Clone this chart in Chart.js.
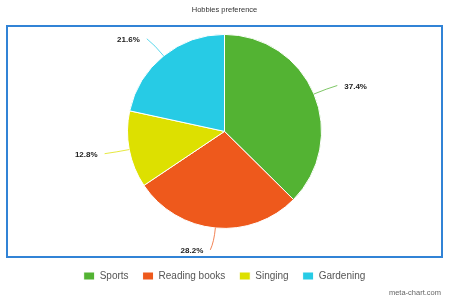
<!DOCTYPE html>
<html>
<head>
<meta charset="utf-8">
<script src="https://cdn.jsdelivr.net/npm/chart.js@4/dist/chart.umd.min.js"></script>
<style>
    html, body { margin: 0; padding: 0; background: #fff; }
    #wrap { width: 449px; height: 299px; }
</style>
</head>
<body>
<div id="wrap"><canvas id="hobbies_chart" width="449" height="299"></canvas></div>
<script>
// Data
const categories = ['Sports', 'Reading books', 'Singing', 'Gardening'];
const shares = [37.4, 28.2, 12.8, 21.6];
const sliceColors = ['#53b333', '#ee591c', '#dde000', '#27cbe5'];
const chartTitle = 'Hobbies preference';

// Blue frame behind the pie
const framePlugin = {
    id: 'frame',
    beforeDatasetsDraw(chart) {
        const c = chart.ctx;
        c.save();
        c.strokeStyle = '#3183d6';
        c.lineWidth = 2;
        c.strokeRect(7, 26, 435, 231);
        c.restore();
    }
};

// Leader lines + percent labels outside the slices
const outLabels = {
    id: 'outLabels',
    afterDraw(chart) {
        const c = chart.ctx;
        const arcs = chart.getDatasetMeta(0).data;
        c.save();
        arcs.forEach((arc, i) => {
            const p = arc.getProps(['x', 'y', 'startAngle', 'endAngle', 'outerRadius'], true);
            const mid = (p.startAngle + p.endAngle) / 2;
            const dx = Math.cos(mid), dy = Math.sin(mid);
            const side = dx >= 0 ? 1 : -1;
            const r = p.outerRadius;
            const x0 = p.x + r * dx, y0 = p.y + r * dy;
            const x1 = p.x + (r + 14) * dx, y1 = p.y + (r + 14) * dy;
            const x2 = p.x + (r + 22) * dx + side * 3, y2 = p.y + (r + 22) * dy;
            c.globalAlpha = 0.75;
            c.strokeStyle = sliceColors[i];
            c.lineWidth = 1;
            c.beginPath();
            c.moveTo(x0, y0);
            c.quadraticCurveTo(x1, y1, x2, y2);
            c.stroke();
            c.globalAlpha = 1;
            c.fillStyle = '#222';
            c.font = 'bold 8px "Liberation Sans", Arial, sans-serif';
            c.textBaseline = 'middle';
            c.textAlign = side > 0 ? 'left' : 'right';
            c.fillText(shares[i].toFixed(1) + '%', x2 + side * 7, y2 + 1);
        });
        // watermark
        c.fillStyle = '#666';
        c.font = '7.5px "Liberation Sans", Arial, sans-serif';
        c.textAlign = 'right';
        c.textBaseline = 'alphabetic';
        c.fillText('meta-chart.com', 441, 295);
        c.restore();
    }
};

const ctx = document.getElementById('hobbies_chart');
const hobbiesChart = new Chart(ctx, {
    type: 'pie',
    data: {
        labels: categories,
        datasets: [
            {
                data: shares,
                backgroundColor: sliceColors,
                borderColor: '#fff',
                borderWidth: 1,
                radius: 97
            }
        ]
    },
    options: {
        responsive: false,
        animation: false,
        events: [],
        layout: {
            padding: { top: 0, bottom: 8, left: 0, right: 0 }
        },
        plugins: {
            title: {
                display: true,
                text: chartTitle,
                color: '#333',
                font: { family: '"Liberation Sans", Arial, sans-serif', size: 7.5, weight: 'normal' },
                padding: { top: 5, bottom: 10 }
            },
            legend: {
                position: 'bottom',
                title: {
                    display: true,
                    text: ' ',
                    font: { size: 1 },
                    padding: { top: 17, bottom: 0 }
                },
                labels: {
                    boxWidth: 11,
                    boxHeight: 8,
                    padding: 14,
                    color: '#555',
                    font: { family: '"Liberation Sans", Arial, sans-serif', size: 10 }
                }
            },
            tooltip: { enabled: false }
        }
    },
    plugins: [framePlugin, outLabels]
});
</script>
</body>
</html>
